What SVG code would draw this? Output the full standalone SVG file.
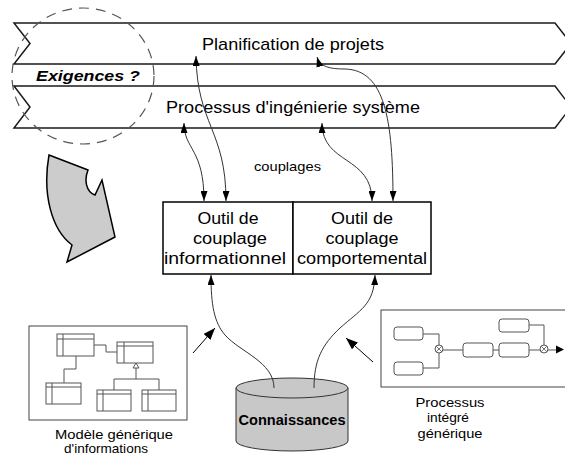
<svg xmlns="http://www.w3.org/2000/svg" width="565" height="456" viewBox="0 0 565 456">
  <style>
    text { font-family: "Liberation Sans", Arial, sans-serif; fill: #000; }
    .band { fill: #fff; stroke: #1a1a1a; stroke-width: 1.5; }
    .tool { fill: #fff; stroke: #000; stroke-width: 1.5; }
    .link { fill: none; stroke: #333; stroke-width: 1; }
    .uml { fill: #fff; stroke: #555; stroke-width: 1; }
    .umlline { fill: none; stroke: #555; stroke-width: 1; }
    .step { fill: #fff; stroke: #555; stroke-width: 1; }
    .frame { fill: #fff; stroke: #444; stroke-width: 1; }
  </style>
  <defs>
    <marker id="tip" viewBox="0 0 10 7" refX="10" refY="3.5" markerWidth="10" markerHeight="7" markerUnits="userSpaceOnUse" orient="auto-start-reverse">
      <path d="M0,0 L10,3.5 L0,7 Z" fill="#000"/>
    </marker>
    <marker id="bigtip" viewBox="0 0 12 9" refX="12" refY="4.5" markerWidth="12" markerHeight="9" markerUnits="userSpaceOnUse" orient="auto">
      <path d="M0,0 L12,4.5 L0,9 Z" fill="#000"/>
    </marker>
  </defs>

  <rect width="565" height="456" fill="#fff"/>

  <!-- process bands -->
  <g id="band-planification">
    <path class="band" d="M14,23 L555,23 L571,43.5 L555,64 L14,64 L30,43.5 Z"/>
    <text x="293" y="50" font-size="17" text-anchor="middle" textLength="182" lengthAdjust="spacingAndGlyphs">Planification de projets</text>
  </g>
  <g id="band-ingenierie">
    <path class="band" d="M14,86 L555,86 L571,107 L555,128 L14,128 L30,107 Z"/>
    <text x="293" y="113" font-size="17" text-anchor="middle" textLength="254" lengthAdjust="spacingAndGlyphs">Processus d'ingénierie système</text>
  </g>

  <!-- requirements zone -->
  <g id="exigences">
    <text x="36" y="81" font-size="15" font-weight="bold" font-style="italic" textLength="104" lengthAdjust="spacingAndGlyphs">Exigences ?</text>
    <ellipse cx="83" cy="76" rx="71" ry="68" fill="none" stroke="#555" stroke-width="1.2" stroke-dasharray="10 7"/>
  </g>

  <!-- curved grey arrow -->
  <g id="fleche">
    <path d="M49,155 L88,170 C84,180 86,192 95,195 L102,180 L115,237 L67,262 L72,245 C52,230 42,195 49,155 Z" fill="#cccccc" stroke="#000" stroke-width="1.5" stroke-linejoin="miter"/>
  </g>

  <!-- coupling tools -->
  <g id="outil-informationnel">
    <rect class="tool" x="163" y="202" width="130" height="72"/>
    <text x="228" y="224" font-size="16" text-anchor="middle" textLength="61" lengthAdjust="spacingAndGlyphs">Outil de</text>
    <text x="230" y="244" font-size="16" text-anchor="middle" textLength="74" lengthAdjust="spacingAndGlyphs">couplage</text>
    <text x="225" y="264" font-size="16" text-anchor="middle" textLength="122" lengthAdjust="spacingAndGlyphs">informationnel</text>
  </g>
  <g id="outil-comportemental">
    <rect class="tool" x="293" y="202" width="138" height="72"/>
    <text x="362" y="224" font-size="16" text-anchor="middle" textLength="62" lengthAdjust="spacingAndGlyphs">Outil de</text>
    <text x="362" y="244" font-size="16" text-anchor="middle" textLength="73" lengthAdjust="spacingAndGlyphs">couplage</text>
    <text x="362" y="264" font-size="16" text-anchor="middle" textLength="130" lengthAdjust="spacingAndGlyphs">comportemental</text>
  </g>

  <text id="label-couplages" x="254" y="171" font-size="13" textLength="67" lengthAdjust="spacingAndGlyphs">couplages</text>

  <!-- knowledge base -->
  <g id="connaissances">
    <path d="M236,388 L236,441 A56,10 0 0 0 348,441 L348,388" fill="#c8c8c8" stroke="#333" stroke-width="1"/>
    <ellipse cx="292" cy="388" rx="56" ry="10" fill="#c8c8c8" stroke="#333" stroke-width="1"/>
    <text x="292" y="425" font-size="14" font-weight="bold" text-anchor="middle" textLength="107" lengthAdjust="spacingAndGlyphs">Connaissances</text>
  </g>

  <!-- generic information model -->
  <g id="modele-informations">
    <rect class="frame" x="29" y="326" width="158" height="94"/>
    <g>
      <rect class="uml" x="57" y="334" width="37" height="22"/>
      <path class="umlline" d="M57,339 H94 M63,334 V356"/>
      <rect class="uml" x="117" y="342" width="36" height="21"/>
      <path class="umlline" d="M117,346 H153 M124,342 V363"/>
      <rect class="uml" x="46" y="383" width="35" height="21"/>
      <path class="umlline" d="M46,387 H81 M52,383 V404"/>
      <rect class="uml" x="97" y="390" width="34" height="21"/>
      <path class="umlline" d="M97,394 H131 M103,390 V411"/>
      <rect class="uml" x="142" y="390" width="34" height="21"/>
      <path class="umlline" d="M142,394 H176 M148,390 V411"/>
      <path class="umlline" d="M94,345 H106 V352 H117"/>
      <path class="umlline" d="M76,356 V369 H64 V383"/>
      <path class="umlline" d="M136,368 V379 M114,390 V379 H159 V390"/>
      <path d="M136,363 L133,368 L139,368 Z" fill="#fff" stroke="#555" stroke-width="1"/>
    </g>
    <text x="55" y="439" font-size="13" textLength="118" lengthAdjust="spacingAndGlyphs">Modèle générique</text>
    <text x="64" y="453" font-size="13" textLength="84" lengthAdjust="spacingAndGlyphs">d'informations</text>
  </g>

  <!-- generic integrated process -->
  <g id="processus-integre">
    <rect class="frame" x="381" y="310" width="186" height="77"/>
    <rect class="step" x="394" y="327" width="29" height="13" rx="3"/>
    <rect class="step" x="394" y="362" width="29" height="13" rx="3"/>
    <rect class="step" x="463" y="343" width="30" height="14" rx="3"/>
    <rect class="step" x="499" y="343" width="30" height="14" rx="3"/>
    <rect class="step" x="499" y="319" width="30" height="13" rx="3"/>
    <path class="umlline" d="M423,334 H439 V345 M423,368 H439 V353 M443,350 H463 M493,350 H499 M529,325 H544 V345 M529,350 H540 M548,350 H556"/>
    <g fill="#fff" stroke="#555" stroke-width="1">
      <circle cx="439" cy="349" r="4"/>
      <circle cx="544" cy="349" r="4"/>
    </g>
    <path d="M436.2,346.2 L441.8,351.8 M441.8,346.2 L436.2,351.8 M541.2,346.2 L546.8,351.8 M546.8,346.2 L541.2,351.8" stroke="#555" stroke-width="0.8"/>
    <path d="M556,345.5 L564,349.5 L556,353.5 Z" fill="#000"/>
    <text x="450" y="407" font-size="13" text-anchor="middle" textLength="69" lengthAdjust="spacingAndGlyphs">Processus</text>
    <text x="448" y="422" font-size="13" text-anchor="middle" textLength="42" lengthAdjust="spacingAndGlyphs">intégré</text>
    <text x="450" y="438" font-size="13" text-anchor="middle" textLength="65" lengthAdjust="spacingAndGlyphs">générique</text>
  </g>

  <!-- connectors -->
  <g id="connecteurs">
    <path class="link" d="M184,123 C184,150 204,148 204,201" marker-start="url(#tip)" marker-end="url(#tip)"/>
    <path class="link" d="M196,56 C197,125 226,130 226,201" marker-start="url(#tip)" marker-end="url(#tip)"/>
    <path class="link" d="M322,123 C322,165 372,155 372,201" marker-start="url(#tip)" marker-end="url(#tip)"/>
    <path class="link" d="M317,57 C320,67 330,69 345,69 C385,70 393,120 393,201" marker-start="url(#tip)" marker-end="url(#tip)"/>
    <path class="link" d="M274,388 C274,362 240,352 225,335 C214,322 211,305 211,275" marker-end="url(#tip)"/>
    <path class="link" d="M314,388 C314,360 322,345 340,328 C360,310 374,305 375,275" marker-end="url(#tip)"/>
    <path d="M193,353 L215,328" stroke="#000" stroke-width="1" marker-end="url(#bigtip)"/>
    <path d="M373,362 L346,338" stroke="#000" stroke-width="1" marker-end="url(#bigtip)"/>
  </g>
</svg>
